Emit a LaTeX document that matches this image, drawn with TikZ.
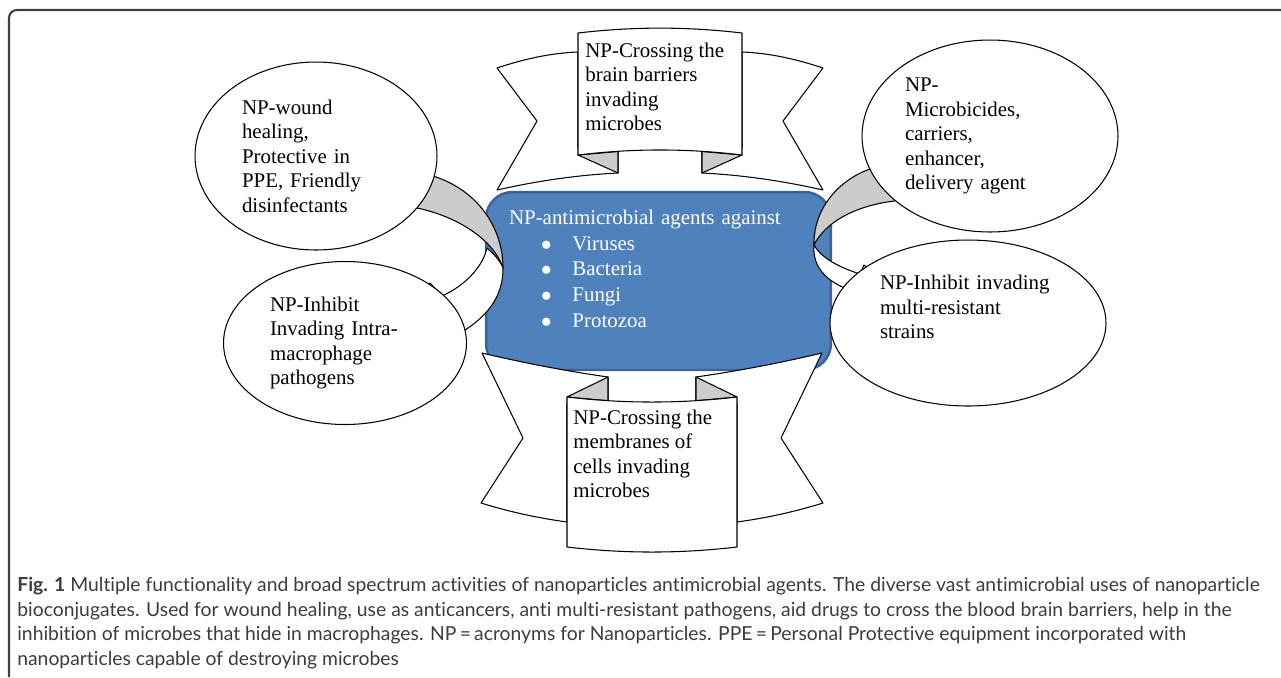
\documentclass[tikz,border=0pt]{standalone}
\usepackage{fontspec}
\setmainfont{Liberation Serif}
\newfontfamily\capfont[Ligatures=NoCommon]{Lato}
\usetikzlibrary{shapes.geometric}
\definecolor{boxblue}{HTML}{4F81BD}
\definecolor{boxedge}{HTML}{3A6495}
\definecolor{foldgrey}{HTML}{CCCCCC}
\definecolor{capgrey}{HTML}{3C3C3C}
\definecolor{framegrey}{HTML}{404040}
\newcommand\diagsize{\fontsize{11.9}{13.9}\selectfont}
\newcommand\hubsize{\fontsize{11.9}{14.7}\selectfont}
\newcommand\itm[1]{\hspace*{18.2pt}\makebox[17.9pt][l]{$\bullet$}#1}

\begin{document}
\begin{tikzpicture}[
 x=0.02cm, y=-0.02cm,
 bubble/.style={ellipse, draw=black, fill=white, line width=0.6pt, inner sep=0pt,
 align=left, font=\diagsize},
 hub/.style={draw=boxedge, line width=1.4pt, fill=boxblue, rounded corners=15pt,
 text=white, align=left, font=\hubsize, inner sep=0pt},
 ribbon/.style={draw=black, fill=white, line width=0.6pt, line join=round},
 fold/.style={ribbon, fill=foldgrey},
 lbl/.style={font=\diagsize, align=left, inner sep=0pt, anchor=west},
 captxt/.style={font=\capfont\fontsize{11}{13.9}\selectfont, text=capgrey, align=left,
 inner sep=0pt, anchor=west},
]
\useasboundingbox (0,0) rectangle (1281,677);
\draw[framegrey, line width=1.2pt, rounded corners=4.5pt] (9,677) -- (9,10) -- (1281,10);

% centre box
\node[hub, minimum width=6.9cm, minimum height=3.56cm, text width=5.98cm] (hub) at (658.5,281)
 {NP-antimicrobial agents against\\ \itm{Viruses}\\ \itm{Bacteria}\\ \itm{Fungi}\\ \itm{Protozoa}\\[-5pt]\strut};

% top ribbon
\draw[ribbon] (578,52) .. controls (551,53) and (524,59) .. (497,68) -- (537,121) -- (497,190)
 .. controls (537,181) and (577,175) .. (618,173) -- (618,148) -- (578,148) -- cycle;
\draw[ribbon] (742,52) .. controls (769,53) and (796,59) .. (823,68) -- (783,121) -- (823,190)
 .. controls (783,181) and (743,175) .. (702,173) -- (702,148) -- (742,148) -- cycle;
\draw[fold] (578,155) -- (618,173) -- (618,151.5) -- cycle;
\draw[fold] (742,155) -- (702,173) -- (702,151.5) -- cycle;
\draw[ribbon] (578,33) .. controls (633,26.5) and (687,26.5) .. (742,33) -- (742,155)
 .. controls (687,148.3) and (633,148.3) .. (578,155) -- cycle;
\node[lbl] (brain) at (585,87) {NP-Crossing the\\brain barriers\\invading\\microbes};

% bottom ribbon
\draw[ribbon] (567,522) .. controls (538,518) and (510,512) .. (481,503) -- (523,438) -- (482,353)
 .. controls (524,363) and (566,371) .. (608,377) -- (608,404) -- (567,404) -- cycle;
\draw[ribbon] (737,522) .. controls (766,518) and (794,512) .. (823,503) -- (781,438) -- (822,353)
 .. controls (780,363) and (738,371) .. (696,377) -- (696,404) -- (737,404) -- cycle;
\draw[fold] (567,397) -- (608,377) -- (608,400.7) -- cycle;
\draw[fold] (737,397) -- (696,377) -- (696,400.7) -- cycle;
\draw[ribbon] (567,397) .. controls (624,403.7) and (680,403.7) .. (737,397) -- (737,547)
 .. controls (680,553.7) and (624,553.7) .. (567,547) -- cycle;
\node[lbl] (membr) at (573,454) {NP-Crossing the\\membranes of\\cells invading\\microbes};

% curved arrows
\draw[fold] (415,172) .. controls (470,180) and (503,222) .. (503,268)
 .. controls (494,240) and (455,212) .. (400,205) -- cycle;
\draw[ribbon] (503,268) .. controls (503,297) and (488,318) .. (452,338) -- (456,352) -- (405,325)
 -- (430,283) -- (442,296) .. controls (468,284) and (483,265) .. (487,248)
 .. controls (495,255) and (501,262) .. (503,268) -- cycle;
\draw[fold] (885,165) .. controls (845,172) and (813,205) .. (814,245)
 .. controls (825,222) and (858,203) .. (905,200) -- cycle;
\draw[ribbon] (814,245) .. controls (812,268) and (828,285) .. (860,293) -- (858,308) -- (905,298)
 -- (864,265) -- (860,274) .. controls (835,266) and (820,256) .. (814,245) -- cycle;

% ellipses
\node[bubble, minimum width=4.84cm, minimum height=3.76cm, text width=2.96cm] (heal) at (316,156)
 {NP-wound\\healing,\\Protective in\\PPE, Friendly\\disinfectants};
\node[bubble, minimum width=4.86cm, minimum height=3.26cm, text width=3.0cm] (macro) at (345,343)
 {NP-Inhibit\\Invading Intra-\\macrophage\\pathogens};
\node[bubble, minimum width=5.12cm, minimum height=3.84cm, text width=3.4cm] (carrier) at (990,136)
 {NP-\\Microbicides,\\carriers,\\enhancer,\\delivery agent};
\node[bubble, minimum width=5.52cm, minimum height=3.32cm, text width=3.52cm] (resist) at (968,323)
 {NP-Inhibit invading\\multi-resistant\\strains\\ \strut};

% caption
\node[captxt] (caption) at (17,623)
 {\textbf{Fig. 1} Multiple functionality and broad spectrum activities of nanoparticles antimicrobial agents. The diverse vast antimicrobial uses of nanoparticle\\
 bioconjugates. Used for wound healing, use as anticancers, anti multi-resistant pathogens, aid drugs to cross the blood brain barriers, help in the\\
 inhibition of microbes that hide in macrophages. NP\,=\,acronyms for Nanoparticles. PPE\,=\,Personal Protective equipment incorporated with\\
 nanoparticles capable of destroying microbes};
\end{tikzpicture}
\end{document}
